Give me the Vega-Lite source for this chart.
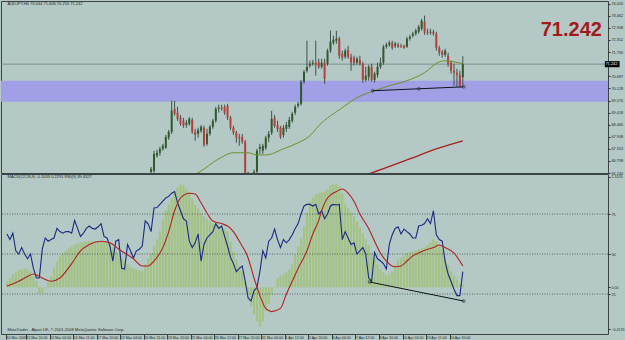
{
"$schema": "https://vega.github.io/schema/vega-lite/v6.json",
"background": "#b4c9c5",
"padding": 0,
"spacing": 1,
"bounds": "flush",
"config": {"view": {"stroke": "#3a4443", "strokeWidth": 1, "fill": "#b4c9c5"}, "font": "Liberation Sans"},
"datasets": {
"candles": [
{"i":49,"o":66.29,"h":66.52,"l":66.20,"c":66.43},
{"i":50,"o":66.34,"h":67.26,"l":66.25,"c":67.12},
{"i":51,"o":67.03,"h":67.30,"l":66.94,"c":67.17},
{"i":52,"o":67.17,"h":67.44,"l":67.03,"c":67.35},
{"i":53,"o":67.35,"h":67.58,"l":67.26,"c":67.49},
{"i":54,"o":67.40,"h":67.99,"l":67.35,"c":67.90},
{"i":55,"o":67.86,"h":68.22,"l":67.76,"c":68.13},
{"i":56,"o":68.13,"h":69.56,"l":68.04,"c":69.10},
{"i":57,"o":69.19,"h":69.56,"l":68.87,"c":68.96},
{"i":58,"o":69.01,"h":69.28,"l":68.64,"c":68.73},
{"i":59,"o":68.78,"h":68.91,"l":68.41,"c":68.50},
{"i":60,"o":68.64,"h":68.78,"l":68.32,"c":68.41},
{"i":61,"o":68.45,"h":68.68,"l":68.32,"c":68.55},
{"i":62,"o":68.50,"h":68.82,"l":68.41,"c":68.73},
{"i":63,"o":68.68,"h":68.78,"l":68.04,"c":68.13},
{"i":64,"o":68.13,"h":68.27,"l":67.72,"c":67.99},
{"i":65,"o":68.04,"h":68.32,"l":67.86,"c":68.22},
{"i":66,"o":68.18,"h":68.45,"l":68.09,"c":68.36},
{"i":67,"o":68.32,"h":68.41,"l":67.44,"c":67.53},
{"i":68,"o":67.58,"h":68.27,"l":67.49,"c":68.04},
{"i":69,"o":68.04,"h":68.45,"l":67.95,"c":68.36},
{"i":70,"o":68.36,"h":68.73,"l":68.27,"c":68.64},
{"i":71,"o":68.64,"h":69.28,"l":68.55,"c":69.19},
{"i":72,"o":69.19,"h":69.38,"l":69.01,"c":69.24},
{"i":73,"o":69.24,"h":69.38,"l":69.10,"c":69.19},
{"i":74,"o":69.28,"h":69.38,"l":68.91,"c":69.01},
{"i":75,"o":69.33,"h":69.42,"l":68.68,"c":68.78},
{"i":76,"o":68.78,"h":68.87,"l":68.22,"c":68.32},
{"i":77,"o":68.32,"h":68.41,"l":67.99,"c":68.09},
{"i":78,"o":68.09,"h":68.18,"l":67.63,"c":67.86},
{"i":79,"o":67.86,"h":68.04,"l":67.49,"c":67.81},
{"i":80,"o":67.90,"h":68.04,"l":67.58,"c":67.67},
{"i":81,"o":67.67,"h":67.76,"l":66.06,"c":66.25},
{"i":82,"o":66.25,"h":66.30,"l":65.80,"c":65.90},
{"i":83,"o":65.90,"h":66.15,"l":65.75,"c":66.00},
{"i":84,"o":66.00,"h":66.40,"l":65.90,"c":66.30},
{"i":85,"o":66.30,"h":67.35,"l":66.20,"c":67.26},
{"i":86,"o":67.35,"h":67.58,"l":67.12,"c":67.44},
{"i":87,"o":67.26,"h":67.58,"l":67.12,"c":67.49},
{"i":88,"o":67.40,"h":67.95,"l":67.30,"c":67.86},
{"i":89,"o":67.86,"h":68.18,"l":67.67,"c":68.04},
{"i":90,"o":68.09,"h":69.10,"l":67.99,"c":68.73},
{"i":91,"o":68.78,"h":68.91,"l":68.32,"c":68.41},
{"i":92,"o":68.45,"h":68.64,"l":68.13,"c":68.27},
{"i":93,"o":68.32,"h":68.41,"l":67.81,"c":67.90},
{"i":94,"o":67.99,"h":68.45,"l":67.86,"c":68.32},
{"i":95,"o":68.27,"h":68.59,"l":68.13,"c":68.45},
{"i":96,"o":68.36,"h":68.82,"l":68.27,"c":68.68},
{"i":97,"o":68.64,"h":69.05,"l":68.55,"c":68.96},
{"i":98,"o":69.01,"h":69.38,"l":68.91,"c":69.28},
{"i":99,"o":69.33,"h":69.51,"l":69.24,"c":69.42},
{"i":100,"o":69.42,"h":70.52,"l":69.33,"c":70.43},
{"i":101,"o":70.43,"h":70.98,"l":70.34,"c":70.89},
{"i":102,"o":70.94,"h":72.32,"l":70.85,"c":71.12},
{"i":103,"o":71.17,"h":71.40,"l":71.08,"c":71.26},
{"i":104,"o":71.26,"h":71.44,"l":71.17,"c":71.31},
{"i":105,"o":71.31,"h":72.32,"l":70.71,"c":71.21},
{"i":106,"o":71.35,"h":71.49,"l":71.03,"c":71.12},
{"i":107,"o":71.12,"h":71.49,"l":71.03,"c":71.31},
{"i":108,"o":71.31,"h":71.49,"l":70.34,"c":70.57},
{"i":109,"o":71.26,"h":71.95,"l":71.17,"c":71.86},
{"i":110,"o":71.86,"h":72.78,"l":71.76,"c":72.27},
{"i":111,"o":72.23,"h":72.55,"l":72.13,"c":72.36},
{"i":112,"o":72.32,"h":72.78,"l":72.18,"c":72.41},
{"i":113,"o":72.41,"h":72.50,"l":71.49,"c":71.63},
{"i":114,"o":71.72,"h":71.86,"l":71.40,"c":71.54},
{"i":115,"o":71.58,"h":71.95,"l":71.49,"c":71.86},
{"i":116,"o":71.90,"h":72.09,"l":71.49,"c":71.58},
{"i":117,"o":71.58,"h":71.72,"l":70.94,"c":71.31},
{"i":118,"o":71.54,"h":71.63,"l":71.17,"c":71.31},
{"i":119,"o":71.31,"h":71.58,"l":71.21,"c":71.49},
{"i":120,"o":71.44,"h":71.63,"l":71.17,"c":71.26},
{"i":121,"o":71.26,"h":71.35,"l":70.39,"c":70.52},
{"i":122,"o":70.52,"h":71.12,"l":70.43,"c":70.71},
{"i":123,"o":70.66,"h":71.21,"l":70.48,"c":71.12},
{"i":124,"o":71.12,"h":71.26,"l":70.43,"c":70.52},
{"i":125,"o":70.52,"h":70.89,"l":70.39,"c":70.80},
{"i":126,"o":70.75,"h":71.31,"l":70.62,"c":71.12},
{"i":127,"o":71.12,"h":71.54,"l":71.03,"c":71.31},
{"i":128,"o":71.31,"h":72.13,"l":71.21,"c":72.04},
{"i":129,"o":72.04,"h":72.23,"l":71.95,"c":72.13},
{"i":130,"o":72.13,"h":72.32,"l":72.04,"c":72.23},
{"i":131,"o":72.23,"h":72.32,"l":71.90,"c":71.99},
{"i":132,"o":72.09,"h":72.27,"l":71.99,"c":72.18},
{"i":133,"o":72.13,"h":72.23,"l":71.99,"c":72.04},
{"i":134,"o":72.09,"h":72.18,"l":71.99,"c":72.04},
{"i":135,"o":72.09,"h":72.13,"l":71.95,"c":71.99},
{"i":136,"o":72.04,"h":72.50,"l":71.99,"c":72.41},
{"i":137,"o":72.41,"h":72.59,"l":72.32,"c":72.50},
{"i":138,"o":72.55,"h":72.73,"l":72.46,"c":72.64},
{"i":139,"o":72.64,"h":72.87,"l":72.55,"c":72.78},
{"i":140,"o":72.73,"h":73.05,"l":72.64,"c":72.96},
{"i":141,"o":72.87,"h":73.33,"l":72.78,"c":73.24},
{"i":142,"o":73.19,"h":73.47,"l":72.59,"c":72.69},
{"i":143,"o":72.73,"h":72.87,"l":72.59,"c":72.69},
{"i":144,"o":72.69,"h":72.87,"l":72.59,"c":72.73},
{"i":145,"o":72.73,"h":72.82,"l":72.55,"c":72.64},
{"i":146,"o":72.64,"h":72.73,"l":71.86,"c":71.99},
{"i":147,"o":71.99,"h":72.09,"l":71.63,"c":71.77},
{"i":148,"o":71.81,"h":71.90,"l":71.54,"c":71.67},
{"i":149,"o":71.67,"h":71.95,"l":71.58,"c":71.86},
{"i":150,"o":71.63,"h":71.77,"l":71.12,"c":71.26},
{"i":151,"o":71.31,"h":71.40,"l":70.80,"c":70.94},
{"i":152,"o":70.94,"h":71.26,"l":70.25,"c":70.85},
{"i":153,"o":70.85,"h":71.03,"l":70.20,"c":70.75},
{"i":154,"o":70.75,"h":70.94,"l":70.16,"c":70.25},
{"i":155,"o":70.644,"h":71.606,"l":70.253,"c":71.242}
],
"maFast": [
{"i":62,"p":66.05},{"i":65,"p":66.25},{"i":72,"p":66.89},{"i":77,"p":67.17},{"i":82,"p":67.17},{"i":85,"p":67.07},{"i":88,"p":67.07},{"i":94,"p":67.35},{"i":99,"p":67.63},{"i":103,"p":67.95},{"i":106,"p":68.41},{"i":114,"p":69.24},{"i":119,"p":69.70},{"i":125,"p":70.02},{"i":130,"p":70.25},{"i":136,"p":70.48},{"i":142,"p":70.85},{"i":147,"p":71.35},{"i":149,"p":71.40},{"i":152,"p":71.35},{"i":155,"p":71.26}
],
"maSlow": [
{"i":118,"p":66.0},{"i":124,"p":66.25},{"i":136,"p":66.84},{"i":147,"p":67.39},{"i":155,"p":67.72}
],
"zones": [{"top":70.478,"bottom":69.512}],
"last": [{"price":71.242,"label":"71.242"}],
"trendTop": [{"i":124.3,"p":70.02},{"i":140,"p":70.11},{"i":155.3,"p":70.20}],
"trendBottom": [{"i":123.3,"r":32.5},{"i":155.3,"r":20.6}],
"levels": [{"lvl":75},{"lvl":50},{"lvl":25}],
"osc": [
{"i":0,"v":0.06,"r":62.5},{"i":1,"v":0.09,"r":59},{"i":2,"v":0.13,"r":63},{"i":3,"v":0.15,"r":52},{"i":4,"v":0.17,"r":50},{"i":5,"v":0.18,"r":54},{"i":6,"v":0.19,"r":50},{"i":7,"v":0.18,"r":47},{"i":8,"v":0.16,"r":50},{"i":9,"v":0.11,"r":41},
{"i":10,"v":0.06,"r":35},{"i":11,"v":-0.06,"r":35},{"i":12,"v":-0.06,"r":53},{"i":13,"v":-0.01,"r":60},{"i":14,"v":0.06,"r":58},{"i":15,"v":0.11,"r":59},{"i":16,"v":0.19,"r":60},{"i":17,"v":0.26,"r":66},{"i":18,"v":0.31,"r":64},{"i":19,"v":0.34,"r":63},
{"i":20,"v":0.37,"r":64},{"i":21,"v":0.39,"r":64},{"i":22,"v":0.41,"r":63},{"i":23,"v":0.43,"r":71},{"i":24,"v":0.44,"r":66},{"i":25,"v":0.45,"r":61},{"i":26,"v":0.46,"r":63},{"i":27,"v":0.46,"r":66},{"i":28,"v":0.46,"r":67.5},{"i":29,"v":0.46,"r":66},
{"i":30,"v":0.46,"r":65.6},{"i":31,"v":0.46,"r":67},{"i":32,"v":0.46,"r":69},{"i":33,"v":0.46,"r":61},{"i":34,"v":0.45,"r":60},{"i":35,"v":0.43,"r":55},{"i":36,"v":0.40,"r":45.6},{"i":37,"v":0.36,"r":58},{"i":38,"v":0.32,"r":59},{"i":39,"v":0.29,"r":41},
{"i":40,"v":0.26,"r":40.6},{"i":41,"v":0.23,"r":56},{"i":42,"v":0.20,"r":52},{"i":43,"v":0.19,"r":47.5},{"i":44,"v":0.18,"r":52},{"i":45,"v":0.17,"r":53},{"i":46,"v":0.17,"r":55},{"i":47,"v":0.23,"r":70.6},{"i":48,"v":0.29,"r":68.8},{"i":49,"v":0.34,"r":64},
{"i":50,"v":0.41,"r":78.8},{"i":51,"v":0.48,"r":79},{"i":52,"v":0.56,"r":81},{"i":53,"v":0.68,"r":83},{"i":54,"v":0.77,"r":85},{"i":55,"v":0.83,"r":86},{"i":56,"v":0.89,"r":88},{"i":57,"v":0.96,"r":89},{"i":58,"v":1.00,"r":82},{"i":59,"v":1.03,"r":77},
{"i":60,"v":1.02,"r":72},{"i":61,"v":0.99,"r":70.6},{"i":62,"v":0.95,"r":58},{"i":63,"v":0.89,"r":54},{"i":64,"v":0.83,"r":57},{"i":65,"v":0.79,"r":62.5},{"i":66,"v":0.74,"r":45.6},{"i":67,"v":0.71,"r":56},{"i":68,"v":0.68,"r":60},{"i":69,"v":0.66,"r":62},
{"i":70,"v":0.64,"r":64},{"i":71,"v":0.63,"r":69},{"i":72,"v":0.62,"r":66},{"i":73,"v":0.61,"r":67.5},{"i":74,"v":0.59,"r":61},{"i":75,"v":0.56,"r":55},{"i":76,"v":0.46,"r":48},{"i":77,"v":0.36,"r":44},{"i":78,"v":0.28,"r":39},{"i":79,"v":0.22,"r":41},
{"i":80,"v":0.16,"r":42.5},{"i":81,"v":0.06,"r":33},{"i":82,"v":-0.07,"r":22.5},{"i":83,"v":-0.19,"r":20.6},{"i":84,"v":-0.27,"r":27},{"i":85,"v":-0.34,"r":29},{"i":86,"v":-0.39,"r":39},{"i":87,"v":-0.34,"r":52},{"i":88,"v":-0.24,"r":47.5},{"i":89,"v":-0.16,"r":58},
{"i":90,"v":-0.07,"r":60},{"i":91,"v":0.01,"r":65.6},{"i":92,"v":0.09,"r":59},{"i":93,"v":0.12,"r":54},{"i":94,"v":0.13,"r":59},{"i":95,"v":0.15,"r":57},{"i":96,"v":0.18,"r":59},{"i":97,"v":0.23,"r":62},{"i":98,"v":0.33,"r":66},{"i":99,"v":0.41,"r":69},
{"i":100,"v":0.49,"r":75},{"i":101,"v":0.61,"r":80},{"i":102,"v":0.74,"r":81},{"i":103,"v":0.86,"r":81},{"i":104,"v":0.90,"r":80},{"i":105,"v":0.93,"r":81},{"i":106,"v":0.94,"r":75},{"i":107,"v":0.95,"r":77},{"i":108,"v":0.96,"r":72},{"i":109,"v":0.98,"r":75},
{"i":110,"v":1.02,"r":80},{"i":111,"v":1.03,"r":81},{"i":112,"v":1.04,"r":80.6},{"i":113,"v":1.01,"r":81},{"i":114,"v":0.94,"r":59},{"i":115,"v":0.83,"r":64},{"i":116,"v":0.79,"r":60},{"i":117,"v":0.75,"r":56},{"i":118,"v":0.71,"r":57},{"i":119,"v":0.66,"r":50},
{"i":120,"v":0.60,"r":52},{"i":121,"v":0.54,"r":54},{"i":122,"v":0.48,"r":50},{"i":123,"v":0.42,"r":35},{"i":124,"v":0.35,"r":33},{"i":125,"v":0.29,"r":51},{"i":126,"v":0.23,"r":47},{"i":127,"v":0.18,"r":45.6},{"i":128,"v":0.15,"r":44},{"i":129,"v":0.12,"r":40.6},
{"i":130,"v":0.13,"r":56},{"i":131,"v":0.16,"r":62},{"i":132,"v":0.22,"r":66},{"i":133,"v":0.27,"r":67},{"i":134,"v":0.30,"r":62.5},{"i":135,"v":0.32,"r":65.6},{"i":136,"v":0.34,"r":64},{"i":137,"v":0.35,"r":62.5},{"i":138,"v":0.36,"r":60},{"i":139,"v":0.37,"r":60},
{"i":140,"v":0.38,"r":67.5},{"i":141,"v":0.39,"r":68},{"i":142,"v":0.40,"r":69},{"i":143,"v":0.42,"r":72},{"i":144,"v":0.45,"r":69},{"i":145,"v":0.48,"r":77},{"i":146,"v":0.46,"r":62},{"i":147,"v":0.43,"r":59},{"i":148,"v":0.38,"r":58},{"i":149,"v":0.29,"r":45},
{"i":150,"v":0.22,"r":37.5},{"i":151,"v":0.16,"r":33},{"i":152,"v":0.12,"r":28},{"i":153,"v":0.08,"r":24},{"i":154,"v":0.04,"r":24},{"i":155,"v":0.03,"r":39}
],
"signal": [
{"i":0,"s":30},{"i":4,"s":33},{"i":7,"s":36},{"i":9,"s":37.5},{"i":12,"s":35},{"i":15,"s":33},{"i":18,"s":35},{"i":22,"s":44},{"i":25,"s":52},{"i":28,"s":56},{"i":32,"s":58},{"i":35,"s":57},{"i":38,"s":53},{"i":43,"s":47},{"i":46,"s":42.5},{"i":48,"s":42.5},{"i":50,"s":45.6},{"i":53,"s":54},{"i":55,"s":64},{"i":57,"s":77},{"i":59,"s":85},{"i":62,"s":88},{"i":64,"s":87.5},{"i":66,"s":82},{"i":68,"s":75.6},{"i":70,"s":70.6},{"i":73,"s":69},{"i":75,"s":67.5},{"i":77,"s":64},{"i":79,"s":58},{"i":82,"s":47.5},{"i":84,"s":35},{"i":86,"s":24},{"i":88,"s":16},{"i":90,"s":14},{"i":93,"s":16},{"i":95,"s":25},{"i":97,"s":33},{"i":99,"s":41},{"i":102,"s":52},{"i":104,"s":62.5},{"i":106,"s":71},{"i":107,"s":77},{"i":109,"s":85},{"i":112,"s":89},{"i":114,"s":90.6},{"i":116,"s":88},{"i":118,"s":83},{"i":120,"s":75},{"i":123,"s":66},{"i":125,"s":58},{"i":127,"s":50.6},{"i":129,"s":45.6},{"i":132,"s":42},{"i":134,"s":42.5},{"i":136,"s":45.6},{"i":138,"s":48.8},{"i":140,"s":50.6},{"i":143,"s":53},{"i":145,"s":54},{"i":147,"s":55.6},{"i":149,"s":54},{"i":152,"s":50.6},{"i":155,"s":42.5}
],
"topText": [{"t":"AUDJPY,H4  70.644 71.606 70.253 71.242"}],
"bottomText": [{"t":"MACD(12,26,9) -0.1033 0.2291  RSI(9) 39.4327"}],
"footText": [{"t":"MetaTrader - Alpari UK, © 2001-2008 MetaQuotes Software Corp."}]
},
"vconcat": [
{
"width": 607, "height": 172,
"resolve": {"axis": {"x": "independent", "y": "independent"}},
"layer": [
{"data": {"name": "zones"}, "mark": {"type": "rect", "color": "#a19fe6"},
 "encoding": {"y": {"field": "top", "type": "quantitative", "scale": {"domain": [66.24, 74.144], "nice": false, "zero": false}, "axis": null}, "y2": {"field": "bottom"}}},
{"data": {"name": "last"}, "mark": {"type": "rule", "color": "#72807e", "strokeWidth": 0.8},
 "encoding": {"y": {"field": "price", "type": "quantitative", "scale": {"domain": [66.24, 74.144], "nice": false, "zero": false},
  "axis": {"orient": "right", "values": [66.24, 66.798, 67.353, 67.908, 68.46, 69.018, 69.57, 70.128, 70.687, 71.79, 72.352, 72.908, 73.462, 74.02], "format": ".3f", "labelFontSize": 3.8, "labelFont": "Liberation Sans", "labelColor": "#1e2524", "tickSize": 2, "tickColor": "#2a3332", "labelPadding": 1, "domain": false, "grid": false, "title": null, "labelOverlap": false, "labelBound": false}}}},
{"data": {"name": "last"}, "mark": {"type": "rect", "color": "#000000", "clip": false},
 "encoding": {"x": {"datum": 203.3, "type": "quantitative", "scale": {"domain": [-0.33, 202.67], "nice": false, "zero": false}, "axis": null}, "x2": {"datum": 208.3},
  "y": {"datum": 71.38, "type": "quantitative", "scale": {"domain": [66.24, 74.144], "nice": false, "zero": false}, "axis": null}, "y2": {"datum": 71.10}}},
{"data": {"name": "last"}, "mark": {"type": "text", "color": "#ffffff", "clip": false, "align": "left", "baseline": "middle", "fontSize": 3.8, "font": "Liberation Sans"},
 "encoding": {"x": {"datum": 203.6, "type": "quantitative", "scale": {"domain": [-0.33, 202.67], "nice": false, "zero": false}, "axis": null},
  "y": {"field": "price", "type": "quantitative", "scale": {"domain": [66.24, 74.144], "nice": false, "zero": false}, "axis": null}, "text": {"field": "label"}}},
{"data": {"name": "candles"}, "mark": {"type": "rule", "color": "#44504e", "strokeWidth": 1, "clip": true},
 "encoding": {"x": {"field": "i", "type": "quantitative", "scale": {"domain": [-0.33, 202.67], "nice": false, "zero": false}, "axis": null},
  "y": {"field": "l", "type": "quantitative", "scale": {"domain": [66.24, 74.144], "nice": false, "zero": false}, "axis": null}, "y2": {"field": "h"}}},
{"data": {"name": "candles"}, "mark": {"type": "bar", "size": 2, "clip": true, "orient": "vertical"},
 "encoding": {"x": {"field": "i", "type": "quantitative", "scale": {"domain": [-0.33, 202.67], "nice": false, "zero": false}, "axis": null},
  "y": {"field": "o", "type": "quantitative", "scale": {"domain": [66.24, 74.144], "nice": false, "zero": false}, "axis": null}, "y2": {"field": "c"},
  "color": {"condition": {"test": "datum.c >= datum.o", "value": "#2f5a2c"}, "value": "#b8403c"}}},
{"data": {"name": "maFast"}, "mark": {"type": "line", "color": "#6f8f2a", "strokeWidth": 1, "interpolate": "monotone", "clip": true},
 "encoding": {"x": {"field": "i", "type": "quantitative", "scale": {"domain": [-0.33, 202.67], "nice": false, "zero": false}, "axis": null},
  "y": {"field": "p", "type": "quantitative", "scale": {"domain": [66.24, 74.144], "nice": false, "zero": false}, "axis": null}}},
{"data": {"name": "maSlow"}, "mark": {"type": "line", "color": "#a82020", "strokeWidth": 1.3, "interpolate": "monotone", "clip": true},
 "encoding": {"x": {"field": "i", "type": "quantitative", "scale": {"domain": [-0.33, 202.67], "nice": false, "zero": false}, "axis": null},
  "y": {"field": "p", "type": "quantitative", "scale": {"domain": [66.24, 74.144], "nice": false, "zero": false}, "axis": null}}},
{"data": {"name": "trendTop"}, "mark": {"type": "line", "color": "#101418", "strokeWidth": 1},
 "encoding": {"x": {"field": "i", "type": "quantitative", "scale": {"domain": [-0.33, 202.67], "nice": false, "zero": false}, "axis": null},
  "y": {"field": "p", "type": "quantitative", "scale": {"domain": [66.24, 74.144], "nice": false, "zero": false}, "axis": null}}},
{"data": {"name": "trendTop"}, "mark": {"type": "point", "color": "#101418", "filled": false, "size": 8, "strokeWidth": 0.8},
 "encoding": {"x": {"field": "i", "type": "quantitative", "scale": {"domain": [-0.33, 202.67], "nice": false, "zero": false}, "axis": null},
  "y": {"field": "p", "type": "quantitative", "scale": {"domain": [66.24, 74.144], "nice": false, "zero": false}, "axis": null}}},
{"data": {"name": "topText"}, "mark": {"type": "text", "align": "left", "baseline": "middle", "fontSize": 4, "color": "#1e2524"},
 "encoding": {"x": {"datum": 0.2, "type": "quantitative", "scale": {"domain": [-0.33, 202.67], "nice": false, "zero": false}, "axis": null},
  "y": {"datum": 74.0, "type": "quantitative", "scale": {"domain": [66.24, 74.144], "nice": false, "zero": false}, "axis": null}, "text": {"field": "t"}}},
{"data": {"name": "last"}, "mark": {"type": "text", "align": "right", "baseline": "alphabetic", "fontSize": 20, "fontWeight": "bold", "color": "#a31a1a", "font": "Liberation Sans"},
 "encoding": {"x": {"datum": 202.3, "type": "quantitative", "scale": {"domain": [-0.33, 202.67], "nice": false, "zero": false}, "axis": null},
  "y": {"datum": 72.536, "type": "quantitative", "scale": {"domain": [66.24, 74.144], "nice": false, "zero": false}, "axis": null}, "text": {"field": "label"}}}
]
},
{
"width": 607, "height": 160,
"resolve": {"scale": {"y": "independent"}, "axis": {"x": "independent", "y": "independent"}},
"layer": [
{"data": {"name": "osc"}, "mark": {"type": "bar", "size": 2.2, "color": "#a4c282", "orient": "vertical"},
 "encoding": {"x": {"field": "i", "type": "quantitative", "scale": {"domain": [-0.33, 202.67], "nice": false, "zero": false},
   "axis": {"orient": "bottom", "values": [-0.33, 6.5, 14.5, 22.5, 30.5, 38.5, 46.5, 54.5, 62.5, 70.5, 78.5, 86.5, 94.5, 102.5, 110.5, 118.5, 126.5, 134.5, 142.5, 150.5],
   "labelExpr": "['10 Mar 2009','11 Mar 20:00','13 Mar 04:00','16 Mar 11:00','17 Mar 20:00','19 Mar 04:00','20 Mar 11:00','23 Mar 20:00','25 Mar 04:00','26 Mar 12:00','27 Mar 20:00','31 Mar 04:00','1 Apr 12:00','2 Apr 20:00','6 Apr 04:00','7 Apr 12:00','8 Apr 20:00','10 Apr 04:00','13 Apr 11:00','14 Apr 20:00'][round((datum.value + 1.5) / 8)]",
   "labelFontSize": 3.6, "labelFont": "Liberation Sans", "labelAlign": "left", "labelBaseline": "top", "labelPadding": -4, "labelDx": 1.2, "tickSize": 5, "tickColor": "#39413f", "domain": false, "grid": false, "title": null, "labelOverlap": false, "labelColor": "#1e2524", "labelBound": false, "labelFlush": false}},
  "y": {"field": "v", "type": "quantitative", "scale": {"domain": [-0.466, 1.134], "nice": false},
   "axis": {"orient": "right", "values": [1.1076, 0, -0.4176], "labelExpr": "datum.value == 0 ? '0.00' : format(datum.value, '.4f')", "labelFontSize": 3.6, "labelFont": "Liberation Sans", "labelColor": "#1e2524", "tickSize": 2, "tickColor": "#2a3332", "labelPadding": 1, "domain": false, "grid": false, "title": null, "labelOverlap": false, "labelBound": false}},
  "y2": {"datum": 0}}},
{"data": {"name": "levels"}, "mark": {"type": "rule", "color": "#3d4948", "strokeWidth": 0.8, "strokeDash": [1, 1.5]},
 "encoding": {"y": {"field": "lvl", "type": "quantitative", "scale": {"domain": [0, 100], "nice": false, "zero": false},
   "axis": {"orient": "right", "values": [25, 50, 75], "format": "d", "labelFontSize": 3.8, "labelFont": "Liberation Sans", "labelColor": "#1e2524", "tickSize": 2, "tickColor": "#2a3332", "labelPadding": 1, "domain": false, "grid": false, "title": null, "labelOverlap": false}}}},
{"data": {"name": "osc"}, "mark": {"type": "line", "color": "#1a2a80", "strokeWidth": 1.1},
 "encoding": {"x": {"field": "i", "type": "quantitative", "scale": {"domain": [-0.33, 202.67], "nice": false, "zero": false}, "axis": null},
  "y": {"field": "r", "type": "quantitative", "scale": {"domain": [0, 100], "nice": false, "zero": false}, "axis": null}}},
{"data": {"name": "signal"}, "mark": {"type": "line", "color": "#b02222", "strokeWidth": 1.1, "interpolate": "monotone"},
 "encoding": {"x": {"field": "i", "type": "quantitative", "scale": {"domain": [-0.33, 202.67], "nice": false, "zero": false}, "axis": null},
  "y": {"field": "s", "type": "quantitative", "scale": {"domain": [0, 100], "nice": false, "zero": false}, "axis": null}}},
{"data": {"name": "trendBottom"}, "mark": {"type": "line", "color": "#101418", "strokeWidth": 1},
 "encoding": {"x": {"field": "i", "type": "quantitative", "scale": {"domain": [-0.33, 202.67], "nice": false, "zero": false}, "axis": null},
  "y": {"field": "r", "type": "quantitative", "scale": {"domain": [0, 100], "nice": false, "zero": false}, "axis": null}}},
{"data": {"name": "trendBottom"}, "mark": {"type": "point", "color": "#101418", "filled": false, "size": 8, "strokeWidth": 0.8},
 "encoding": {"x": {"field": "i", "type": "quantitative", "scale": {"domain": [-0.33, 202.67], "nice": false, "zero": false}, "axis": null},
  "y": {"field": "r", "type": "quantitative", "scale": {"domain": [0, 100], "nice": false, "zero": false}, "axis": null}}},
{"data": {"name": "bottomText"}, "mark": {"type": "text", "align": "left", "baseline": "middle", "fontSize": 4, "color": "#1e2524"},
 "encoding": {"x": {"datum": 0.2, "type": "quantitative", "scale": {"domain": [-0.33, 202.67], "nice": false, "zero": false}, "axis": null},
  "y": {"datum": 98.0, "type": "quantitative", "scale": {"domain": [0, 100], "nice": false, "zero": false}, "axis": null}, "text": {"field": "t"}}},
{"data": {"name": "footText"}, "mark": {"type": "text", "align": "left", "baseline": "middle", "fontSize": 4, "color": "#1e2524"},
 "encoding": {"x": {"datum": 0.2, "type": "quantitative", "scale": {"domain": [-0.33, 202.67], "nice": false, "zero": false}, "axis": null},
  "y": {"datum": 2.2, "type": "quantitative", "scale": {"domain": [0, 100], "nice": false, "zero": false}, "axis": null}, "text": {"field": "t"}}}
]
}
]
}
